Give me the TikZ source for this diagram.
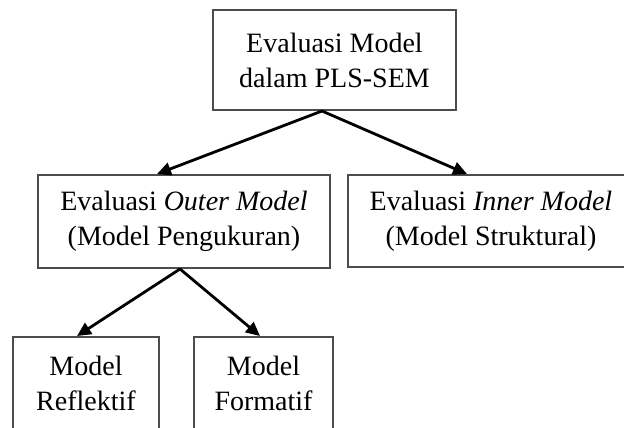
\documentclass[tikz,border=0pt]{standalone}
\usepackage{fontspec}
\setmainfont{Liberation Serif}
\usetikzlibrary{arrows.meta}
\tikzset{
  evalbox/.style={draw=black!70, line width=2pt, align=center, inner sep=0pt,
    font=\fontsize{28}{35}\selectfont},
  evalarrow/.style={line width=2.8pt, -{Triangle[length=14pt,width=13pt]}}
}
\begin{document}
\begin{tikzpicture}[x=1pt,y=-1pt]
\useasboundingbox (0,0) rectangle (624,428);
\clip (0,0) rectangle (624,428);
%%% first level: the whole evaluation
\node[evalbox, minimum width=243pt, minimum height=100pt] (plssem) at (334.5,60)
  {Evaluasi Model\\dalam PLS-SEM};
%%% second level: outer and inner model
\node[evalbox, minimum width=292pt, minimum height=93pt] (outer) at (184,221.5)
  {Evaluasi \textit{Outer Model}\\(Model Pengukuran)};
\node[evalbox, minimum width=286pt, minimum height=92pt] (inner) at (491,221)
  {Evaluasi \textit{Inner Model}\\(Model Struktural)};
%%% third level: the two kinds of measurement model
\node[evalbox, minimum width=146pt, minimum height=93pt] (reflektif) at (86,383.5)
  {Model\\Reflektif};
\node[evalbox, minimum width=139pt, minimum height=93pt] (formatif) at (263.5,383.5)
  {Model\\Formatif};
\draw[evalarrow] ([xshift=-12.5pt]plssem.south) -- ([xshift=-27pt]outer.north);
\draw[evalarrow] ([xshift=-12.5pt]plssem.south) -- ([xshift=-24pt]inner.north);
\draw[evalarrow] ([xshift=-4pt]outer.south) -- ([xshift=-9pt]reflektif.north);
\draw[evalarrow] ([xshift=-4pt]outer.south) -- ([xshift=-3.5pt]formatif.north);
\end{tikzpicture}
\end{document}
